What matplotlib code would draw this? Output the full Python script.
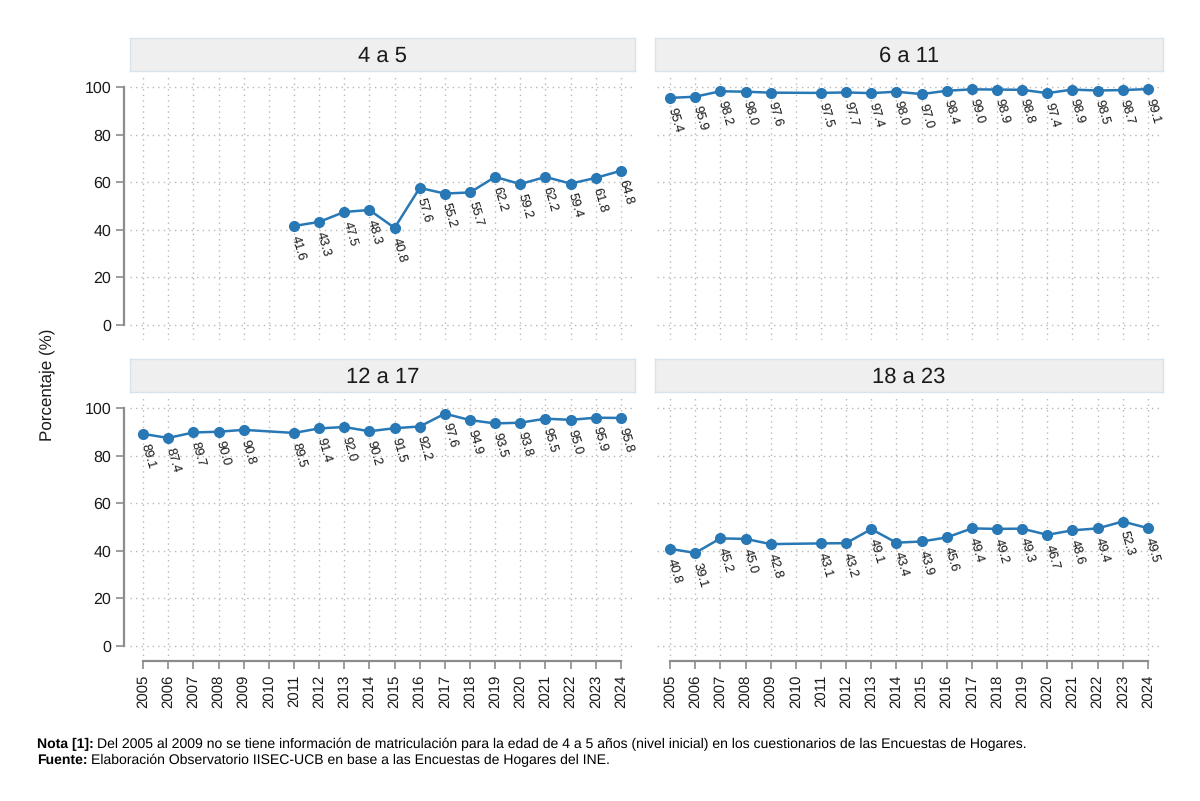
import numpy as np
import matplotlib
matplotlib.use("Agg")
import matplotlib.pyplot as plt

plt.rcParams['font.family'] = ['Liberation Sans', 'DejaVu Sans']
plt.rcParams['text.hinting'] = 'no_hinting'
plt.rcParams['text.hinting_factor'] = 1

# years with data (2010 has no survey)
years = [2005, 2006, 2007, 2008, 2009, 2011, 2012, 2013, 2014, 2015,
         2016, 2017, 2018, 2019, 2020, 2021, 2022, 2023, 2024]
years_4a5 = [2011, 2012, 2013, 2014, 2015, 2016, 2017, 2018, 2019, 2020,
             2021, 2022, 2023, 2024]
tick_years = list(range(2005, 2025))

val_4a5 = [41.6, 43.3, 47.5, 48.3, 40.8, 57.6, 55.2, 55.7, 62.2, 59.2,
           62.2, 59.4, 61.8, 64.8]
val_6a11 = [95.4, 95.9, 98.2, 98.0, 97.6, 97.5, 97.7, 97.4, 98.0, 97.0,
            98.4, 99.0, 98.9, 98.8, 97.4, 98.9, 98.5, 98.7, 99.1]
val_12a17 = [89.1, 87.4, 89.7, 90.0, 90.8, 89.5, 91.4, 92.0, 90.2, 91.5,
             92.2, 97.6, 94.9, 93.5, 93.8, 95.5, 95.0, 95.9, 95.8]
val_18a23 = [40.8, 39.1, 45.2, 45.0, 42.8, 43.1, 43.2, 49.1, 43.4, 43.9,
             45.6, 49.4, 49.2, 49.3, 46.7, 48.6, 49.4, 52.3, 49.5]

panels = [
    ("4 a 5", years_4a5, val_4a5),
    ("6 a 11", years, val_6a11),
    ("12 a 17", years, val_12a17),
    ("18 a 23", years, val_18a23),
]

nota_txt = "Del 2005 al 2009 no se tiene información de matriculación para la edad de 4 a 5 años (nivel inicial) en los cuestionarios de las Encuestas de Hogares."
fuente_txt = "Elaboración Observatorio IISEC-UCB en base a las Encuestas de Hogares del INE."

W, H = 1200, 801
fig = plt.figure(figsize=(W / 100, H / 100), dpi=100)

def rect(l, t, r, b):
    return [l / W, 1 - b / H, (r - l) / W, (b - t) / H]

line_col = '#2878b5'
spine_col = '#8c8c8c'
grid_col = '#b8b8b8'

# pixel layout: (left, top, right, bottom) for axes and strips
ax_boxes = [(130, 76, 635, 340), (657, 76, 1162, 340),
            (130, 397, 635, 661), (657, 397, 1162, 661)]
strip_boxes = [(130, 38, 635, 71), (655, 38, 1163, 71),
               (130, 359, 635, 392), (655, 359, 1163, 392)]

for i, (title, xs, ys) in enumerate(panels):
    ax = fig.add_axes(rect(*ax_boxes[i]))
    ax.set_xlim(2004.48, 2024.56)
    ax.set_ylim(-6.3, 104.6)
    ax.set_xticks(tick_years)
    ax.set_yticks([0, 20, 40, 60, 80, 100])
    ax.grid(True, color=grid_col, linestyle=(0, (1, 3)), linewidth=1)
    ax.set_axisbelow(True)
    for s in ['top', 'right']:
        ax.spines[s].set_visible(False)

    left_col = i % 2 == 0
    bottom_row = i >= 2
    if left_col:
        ax.spines['left'].set_position(('outward', 4))
        ax.spines['left'].set_bounds(0, 100)
        ax.spines['left'].set_color(spine_col)
        ax.spines['left'].set_linewidth(1.6)
        ax.tick_params(axis='y', colors=spine_col, labelcolor='#1a1a1a',
                       length=6, width=1.2, labelsize=11.5)
    else:
        ax.spines['left'].set_visible(False)
        ax.tick_params(axis='y', length=0, labelleft=False)
    if bottom_row:
        ax.spines['bottom'].set_bounds(2005, 2024)
        ax.spines['bottom'].set_color(spine_col)
        ax.spines['bottom'].set_linewidth(1.6)
        ax.tick_params(axis='x', colors=spine_col, labelcolor='#1a1a1a',
                       length=6, width=1.2, labelsize=11, labelrotation=90)
    else:
        ax.spines['bottom'].set_visible(False)
        ax.tick_params(axis='x', length=0, labelbottom=False)

    ax.plot(xs, ys, color=line_col, linewidth=1.8, marker='o', markersize=7,
            zorder=3)
    for x, y in zip(xs, ys):
        ax.annotate(f"{y:.1f}", (x, y), xytext=(1, -7), textcoords='offset points',
                    rotation=-74, rotation_mode='anchor', ha='left', va='center',
                    fontsize=9.5, color='#1a1a1a')

    sax = fig.add_axes(rect(*strip_boxes[i]))
    sax.set_facecolor('#efefef')
    sax.set_xticks([])
    sax.set_yticks([])
    for s in sax.spines.values():
        s.set_color('#d8e4ec')
        s.set_linewidth(1)
    sax.text(0.5, 0.45, title, ha='center', va='center', fontsize=16,
             transform=sax.transAxes, color='#1a1a1a')

fig.text(47 / W, 1 - 385 / H, "Porcentaje (%)", rotation=90, ha='center',
         va='center', fontsize=12.5, color='#1a1a1a')

# footnotes: bold label followed by plain text
fig.canvas.draw()
for y_px, lab, txt in [(744, "Nota [1]:", nota_txt), (760, "Fuente:", fuente_txt)]:
    t = fig.text(37 / W, 1 - y_px / H, lab, fontsize=9.75, va='center',
                 fontweight='bold')
    bb = t.get_window_extent(renderer=fig.canvas.get_renderer())
    fig.text((bb.x1 + 3) / W, 1 - y_px / H, txt, fontsize=9.75, va='center')

fig.savefig("out.png", dpi=100, facecolor='white')
